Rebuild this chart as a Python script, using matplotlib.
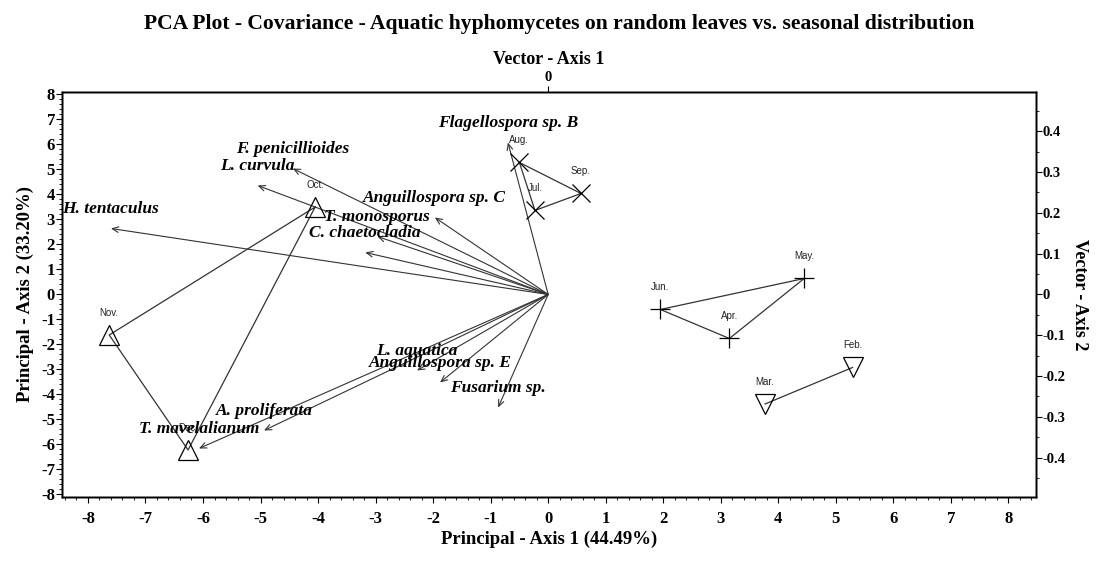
import numpy as np
import matplotlib
matplotlib.use('Agg')
import matplotlib.pyplot as plt
from matplotlib.ticker import MultipleLocator

plt.rcParams['font.family'] = ['Liberation Serif', 'DejaVu Serif']
plt.rcParams['font.weight'] = 'bold'
plt.rcParams['axes.unicode_minus'] = False

# sites (principal scores, axis 1 / axis 2)
site_names = ['Oct.', 'Nov.', 'Dec.', 'Jul.', 'Aug.', 'Sep.', 'Apr.', 'May.', 'Jun.', 'Feb.', 'Mar.']
site_x = [-4.05, -7.63, -6.26, -0.23, -0.50, 0.57, 3.15, 4.45, 1.95, 5.29, 3.77]
site_y = [3.50, -1.62, -6.22, 3.36, 5.28, 4.04, -1.76, 0.64, -0.60, -2.92, -4.38]
site_group = [0, 0, 0, 1, 1, 1, 2, 2, 2, 3, 3]
group_marker = ['^', 'x', '+', 'v']

# species vectors (tips, drawn in principal units)
sp_names = ['H. tentaculus', 'L. curvula', 'F. penicillioides', 'T. monosporus',
            'C. chaetocladia', 'Anguillospora sp. C', 'Flagellospora sp. B',
            'L. aquatica', 'Anguillospora sp. E', 'Fusarium sp.',
            'A. proliferata', 'T. mavelalianum']
sp_x = [-7.60, -5.05, -4.44, -2.97, -3.18, -1.97, -0.70, -2.28, -1.88, -0.87, -4.94, -6.07]
sp_y = [2.64, 4.36, 5.04, 2.32, 1.68, 3.08, 6.08, -3.04, -3.52, -4.52, -5.44, -6.16]

vec_scale = 16.32  # principal units per vector unit
vec_ticks = [-0.4, -0.3, -0.2, -0.1, 0, 0.1, 0.2, 0.3, 0.4]
vec_ticklabels = ['-0.4', '-0.3', '-0.2', '-0.1', '0', '0.1', '0.2', '0.3', '0.4']

fig = plt.figure(figsize=(11.18, 5.65), dpi=100)
ax = fig.add_axes([0.0555, 0.1204, 0.8712, 0.7168])
xl = (-8.45, 8.48)
yl = (-8.1, 8.1)
ax.set_xlim(xl)
ax.set_ylim(yl)

# group outlines
site_x = np.array(site_x)
site_y = np.array(site_y)
site_group = np.array(site_group)
for g in range(4):
    idx = np.where(site_group == g)[0]
    px = list(site_x[idx])
    py = list(site_y[idx])
    if len(idx) > 2:
        px.append(px[0])
        py.append(py[0])
    ax.plot(px, py, color='#333333', lw=0.9, zorder=2)
    ax.plot(site_x[idx], site_y[idx], linestyle='none', marker=group_marker[g],
            markersize=15 if g != 1 else 13, markerfacecolor='none',
            markeredgecolor='black', markeredgewidth=0.9, zorder=3)

for i in range(len(site_names)):
    ax.annotate(site_names[i], (site_x[i], site_y[i]), xytext=(0, 16),
                textcoords='offset points', ha='center', va='center',
                fontsize=7, fontweight='normal', family='Liberation Sans',
                color='#222222', zorder=4)

# species arrows
for i in range(len(sp_names)):
    ax.annotate('', xy=(sp_x[i], sp_y[i]), xytext=(0, 0),
                arrowprops=dict(arrowstyle='->,head_length=0.45,head_width=0.2',
                                color='#333333', lw=0.8, shrinkA=0, shrinkB=0),
                zorder=2)
    ax.annotate(sp_names[i], (sp_x[i], sp_y[i]), xytext=(0, 14),
                textcoords='offset points', ha='center', va='center',
                fontsize=12.5, fontweight='bold', fontstyle='italic', zorder=5)

ax.xaxis.set_major_locator(MultipleLocator(1))
ax.xaxis.set_minor_locator(MultipleLocator(0.2))
ax.yaxis.set_major_locator(MultipleLocator(1))
ax.yaxis.set_minor_locator(MultipleLocator(0.2))
ax.tick_params(which='major', length=4, width=0.8, labelsize=12, direction='out')
ax.tick_params(which='minor', length=2, width=0.6, direction='out')
ax.tick_params(axis='y', pad=1)
ax.tick_params(axis='x', pad=6)
ax.set_xlabel('Principal - Axis 1 (44.49%)', fontsize=13.5, fontweight='bold', labelpad=3)
ax.set_ylabel('Principal - Axis 2 (33.20%)', fontsize=13.5, fontweight='bold', labelpad=5)

# right vector axis
ax2 = ax.twinx()
ax2.set_ylim(yl[0] / vec_scale, yl[1] / vec_scale)
ax2.set_yticks(vec_ticks)
ax2.set_yticklabels(vec_ticklabels)
ax2.yaxis.set_minor_locator(MultipleLocator(0.05))
ax2.tick_params(which='major', length=4, width=0.8, labelsize=10.5, pad=1)
ax2.tick_params(which='minor', length=2, width=0.6)
ax2.set_ylabel('Vector - Axis 2', fontsize=13, fontweight='bold', rotation=-90, labelpad=16)

# top vector axis
ax3 = ax.twiny()
ax3.set_xlim(xl[0] / vec_scale, xl[1] / vec_scale)
ax3.set_xticks([0])
ax3.set_xticklabels(['0'])
ax3.tick_params(which='major', length=4, width=0.8, labelsize=10.5, pad=2)
ax3.set_xlabel('Vector - Axis 1', fontsize=13, fontweight='bold', labelpad=5)

for a in (ax, ax2, ax3):
    for s in a.spines.values():
        s.set_linewidth(1.0)

fig.suptitle('PCA Plot - Covariance - Aquatic hyphomycetes on random leaves vs. seasonal distribution',
             fontsize=15.6, fontweight='bold', y=0.976)

fig.savefig('out.png', dpi=100, facecolor='white')
